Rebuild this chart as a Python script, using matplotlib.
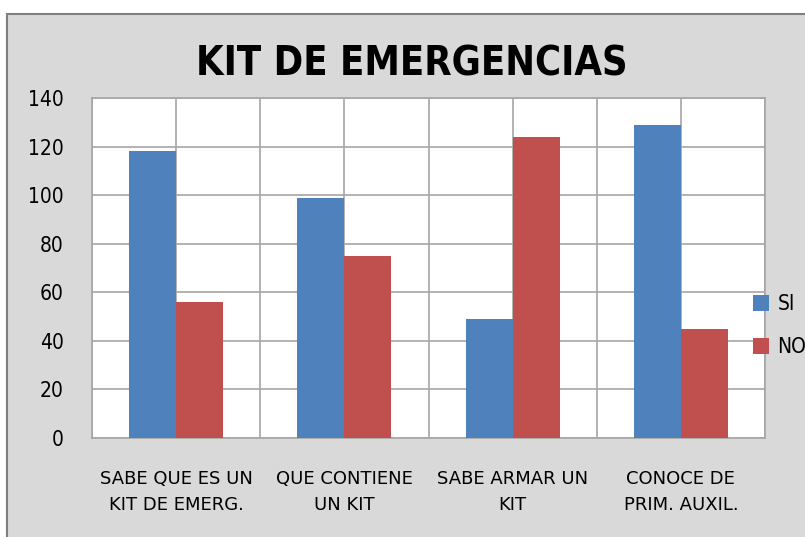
import matplotlib
matplotlib.use("Agg")
import matplotlib.pyplot as plt
import numpy as np
from matplotlib.patches import Rectangle

categorias = ["SABE QUE ES UN\nKIT DE EMERG.", "QUE CONTIENE\nUN KIT", "SABE ARMAR UN\nKIT", "CONOCE DE\nPRIM. AUXIL."]
si = [118, 99, 49, 129]
no = [56, 75, 124, 45]
yticks = [0, 20, 40, 60, 80, 100, 120, 140]

plt.rcParams["font.family"] = ["DejaVu Sans"]
plt.rcParams["font.stretch"] = "condensed"

fig = plt.figure(figsize=(8.05, 5.37), dpi=100, facecolor="white")
# fondo gris del area del grafico (estilo Excel)
fondo = Rectangle((7 / 805, -0.1), 1.2, 1.1 - 14 / 537,
                  transform=fig.transFigure, facecolor="#d9d9d9",
                  edgecolor="#7f7f7f", linewidth=1.5, zorder=-10)
fig.patches.append(fondo)

ax = fig.add_axes([92 / 805, 1 - 438 / 537, (765 - 92) / 805, (438 - 98) / 537])
ax.set_zorder(2)
ax.set_facecolor("white")

x = np.arange(len(categorias)) + 0.5
w = 0.28
ax.bar(x - w / 2, si, w, color="#4f81bd", label="SI", zorder=3)
ax.bar(x + w / 2, no, w, color="#c0504d", label="NO", zorder=3)

ax.set_xlim(0, len(categorias))
ax.set_ylim(0, 140)
ax.set_yticks(yticks)
ax.set_xticks(x)
ax.set_xticklabels(categorias, fontsize=13, linespacing=1.6, fontstretch="normal")
ax.set_xticks(np.arange(0, len(categorias) + 0.5, 1.0), minor=True)
ax.tick_params(axis="x", which="both", length=0, pad=23)
ax.tick_params(axis="y", length=0, pad=20.5, labelsize=15)
ax.grid(True, axis="y", color="#a6a6a6", linewidth=1.2, zorder=0)
ax.grid(True, axis="x", which="both", color="#a6a6a6", linewidth=1.2, zorder=0)
for s in ax.spines.values():
    s.set_color("#a6a6a6")
    s.set_linewidth(1.2)

fig.text(412 / 805, 1 - 64 / 537, "KIT DE EMERGENCIAS", ha="center", va="center",
         fontsize=28.5, fontweight="bold", zorder=5)

ax.legend(loc="center left", bbox_to_anchor=(0.955, 0.33), frameon=False,
          fontsize=15, handlelength=0.75, handleheight=0.75, labelspacing=1.1,
          handletextpad=0.4)

fig.savefig("out.png", dpi=100, facecolor="white")
